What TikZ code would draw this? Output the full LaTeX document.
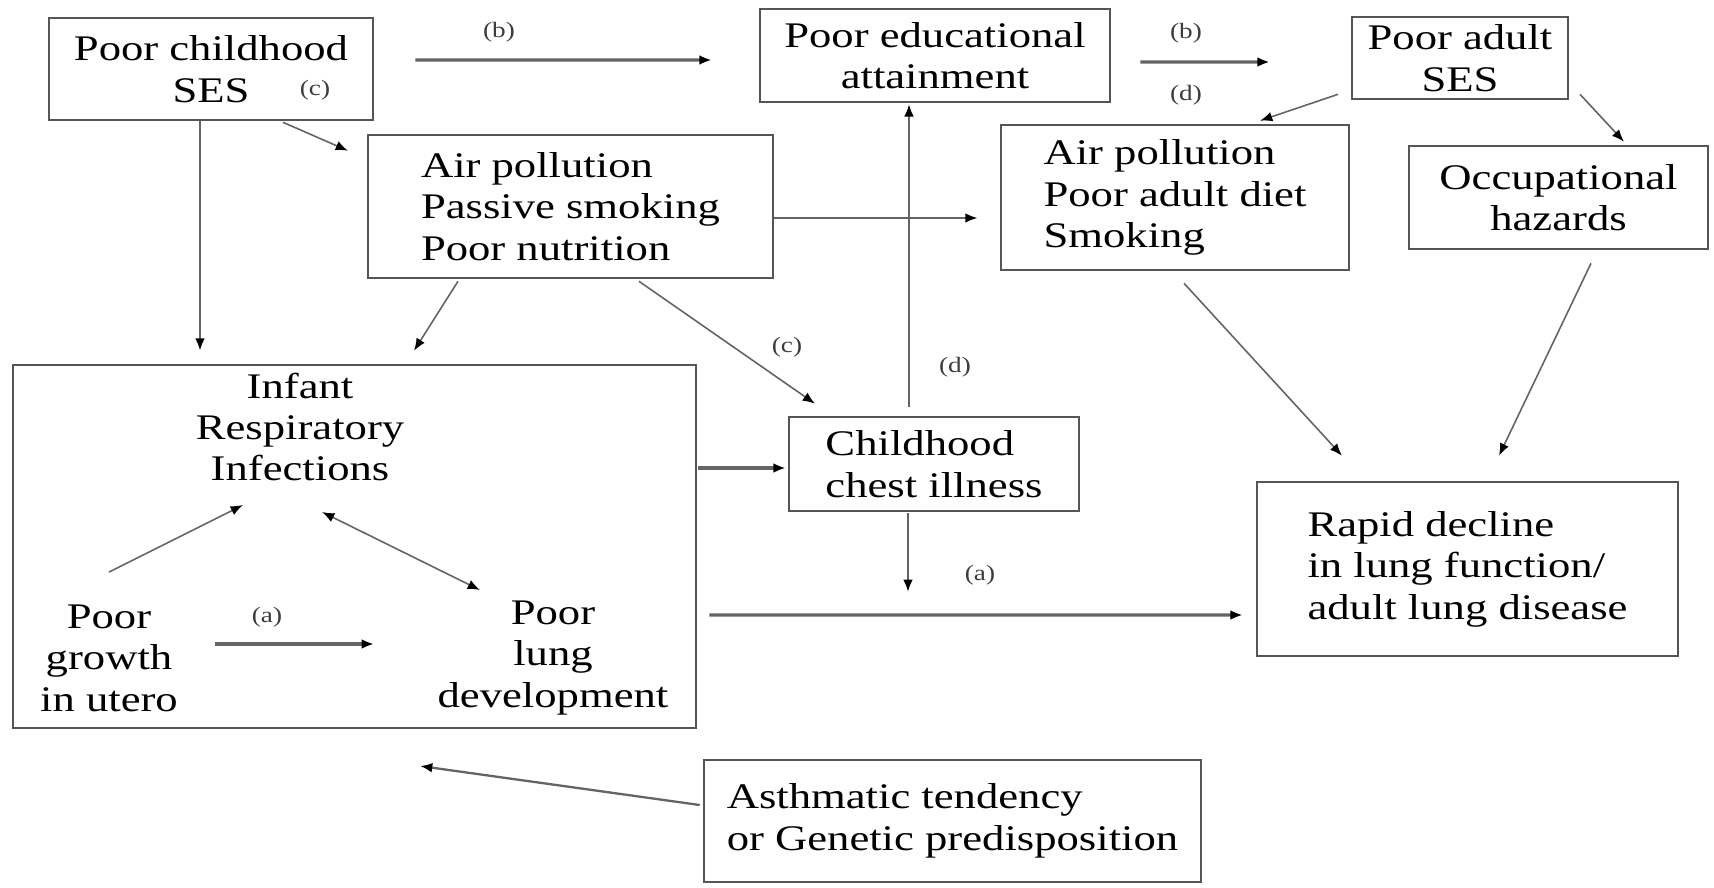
\documentclass[tikz,border=0pt]{standalone}
\usepackage{fontspec}
\newfontfamily\rf[FakeStretch=1.24]{Liberation Serif}
\usetikzlibrary{arrows.meta}
\definecolor{bc}{RGB}{85,85,85}
\definecolor{lc}{RGB}{100,100,100}
\definecolor{labc}{RGB}{60,60,60}
\newcommand\txtf{\rf\fontsize{20.5}{23.6}\selectfont}
\newcommand\labf{\rf\fontsize{12.5}{14}\selectfont}
\begin{document}
\begin{tikzpicture}[x=0.02cm,y=-0.02cm,
  box/.style={draw=bc, line width=1.5pt, rectangle, inner sep=0pt, align=center, font=\txtf, text=black},
  txt/.style={inner sep=0pt, align=center, font=\txtf, text=black},
  lab/.style={font=\labf, inner sep=0pt, text=labc},
  arr/.style={draw=lc, line width=0.9pt, -{Latex[length=7pt,width=5.5pt,color=black]}},
  dbl/.style={draw=lc, line width=0.9pt, {Latex[length=7pt,width=5.5pt,color=black]}-{Latex[length=7pt,width=5.5pt,color=black]}},
  med/.style={arr, line width=1.3pt},
  thk/.style={arr, line width=1.8pt}]
\useasboundingbox (0,0) rectangle (1714,887);
\fill[white] (0,0) rectangle (1714,887);

% boxes
\node[box, minimum width=6.48cm, minimum height=2.04cm] (ses) at (211,69) {Poor childhood\\SES};
\node[box, minimum width=7.0cm, minimum height=1.86cm] (edu) at (935,55.5) {Poor educational\\attainment};
\node[box, minimum width=4.32cm, minimum height=1.64cm] (adses) at (1460,58) {Poor adult\\SES};
\node[box, minimum width=8.1cm, minimum height=2.86cm, align=left] (chair) at (570.5,206.5) {Air pollution\\Passive smoking\\Poor nutrition};
\node[box, minimum width=6.96cm, minimum height=2.9cm, align=left] (adair) at (1175,197.5) {Air pollution\\Poor adult diet\\Smoking};
\node[box, minimum width=5.98cm, minimum height=2.06cm] (occ) at (1558.5,197.5) {Occupational\\hazards};
\node[box, minimum width=13.66cm, minimum height=7.26cm] (infant) at (354.5,546.5) {};
\node[box, minimum width=5.8cm, minimum height=1.88cm, align=left] (chest) at (934,464) {Childhood\\chest illness};
\node[box, minimum width=8.42cm, minimum height=3.48cm, align=left] (rapid) at (1467.5,569) {Rapid decline\\in lung function/\\adult lung disease};
\node[box, minimum width=9.94cm, minimum height=2.44cm, align=left] (asth) at (952.5,821) {Asthmatic tendency\\or Genetic predisposition};

% texts inside infant box
\node[txt] (inf) at (300,427) {Infant\\Respiratory\\Infections};
\node[txt] (growth) at (109,658) {Poor\\growth\\in utero};
\node[txt] (lung) at (553,658) {Poor\\lung\\development};

% labels
\node[lab] (lb1) at (499,32) {(b)};
\node[lab] (lb2) at (1186,33) {(b)};
\node[lab] (ld1) at (1186,95) {(d)};
\node[lab] (lc1) at (315,90) {(c)};
\node[lab] (lc2) at (787,347) {(c)};
\node[lab] (ld2) at (955,367) {(d)};
\node[lab] (la1) at (980,575) {(a)};
\node[lab] (la2) at (267,617) {(a)};

% free ends
\coordinate (chestend) at (908,592);
\coordinate (asthend) at (420,766);

% connectors
\draw[thk] ([shift={(41,-9)}]ses.east) -- ([shift={(-47,4.5)}]edu.west);
\draw[thk] ([shift={(29,6.5)}]edu.east) -- ([shift={(-81,4)}]adses.west);
\draw[arr] ([shift={(-122,-6)}]adses.south) -- ([shift={(85,-3)}]adair.north);
\draw[arr] ([shift={(120,-6)}]adses.south) -- ([shift={(65.5,-3)}]occ.north);
\draw[arr] ([shift={(72,1)}]ses.south) -- ([shift={(-222.5,17)}]chair.north);
\draw[med] ([shift={(-11,0)}]ses.south) -- ([shift={(-154.5,-13)}]infant.north);
\draw[arr] ([shift={(-112.5,2)}]chair.south) -- ([shift={(59.5,-13)}]infant.north);
\draw[arr] ([shift={(68.5,2)}]chair.south) -- ([shift={(-119,-12)}]chest.north);
\draw[med] ([shift={(0,11.5)}]chair.east) -- ([shift={(-22,20.5)}]adair.west);
\draw[arr] ([shift={(-25,-9)}]chest.north) -- ([shift={(-26,1)}]edu.south);
\draw[thk] ([shift={(1,-78.5)}]infant.east) -- ([shift={(-2,4)}]chest.west);
\draw[med] ([shift={(-26,1)}]chest.south) -- (chestend);
\draw[thk] ([shift={(12,68.5)}]infant.east) -- ([shift={(-13,46)}]rapid.west);
\draw[arr] ([shift={(9,12)}]adair.south) -- ([shift={(-125.5,-25)}]rapid.north);
\draw[arr] ([shift={(32.5,13)}]occ.south) -- ([shift={(31.5,-25)}]rapid.north);
\draw[arr] ([shift={(0,-86)}]growth.center) -- ([shift={(-57,78)}]inf.center);
\draw[dbl] ([shift={(22,85)}]inf.center) -- ([shift={(-73,-68)}]lung.center);
\draw[thk] ([shift={(106,-14)}]growth.center) -- ([shift={(-179,-14)}]lung.center);
\draw[med] ([shift={(-3,-16)}]asth.west) -- (asthend);
\end{tikzpicture}
\end{document}
